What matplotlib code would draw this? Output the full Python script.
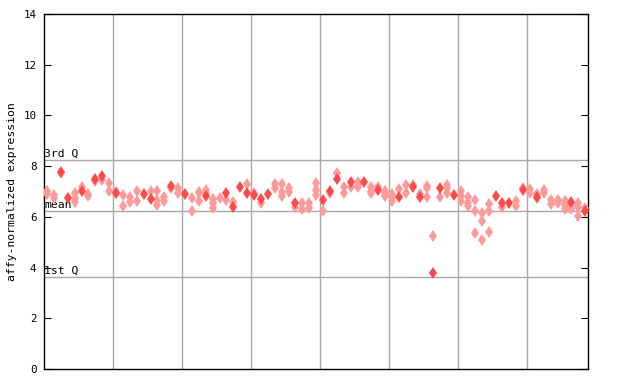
import matplotlib
matplotlib.use("Agg")
import matplotlib.pyplot as plt

# sample index / expression value
solid_idx = [2, 3, 5, 7, 8, 10, 14, 15, 18, 20, 23, 26, 27, 28, 29, 30, 31, 32, 36,
             40, 41, 42, 44, 46, 48, 51, 53, 54, 56, 57, 59, 65, 66, 67, 69, 71, 76, 78]
solid_val = [7.78, 6.73, 7.03, 7.49, 7.62, 6.93, 6.89, 6.69, 7.21, 6.89, 6.82, 6.95, 6.40,
             7.19, 6.95, 6.87, 6.69, 6.90, 6.53, 6.66, 7.03, 7.49, 7.36, 7.36, 7.06, 6.79,
             7.16, 6.77, 3.80, 7.15, 6.87, 6.82, 6.56, 6.53, 7.06, 6.79, 6.60, 6.23]

light_idx = [0, 0, 1, 1, 2, 4, 4, 4, 5, 6, 6, 7, 8, 9, 9, 10, 11, 11, 12, 12,
             13, 13, 15, 16, 16, 16, 17, 17, 18, 19, 19, 21, 21, 22, 22, 22, 23, 23,
             24, 24, 24, 25, 26, 27, 29, 30, 31, 33, 33, 34, 34, 34, 35, 35, 36, 37, 37,
             38, 38, 39, 39, 39, 40, 41, 42, 43, 43, 44, 45, 45, 45, 47, 47, 47, 48,
             49, 49, 49, 50, 50, 50, 51, 52, 52, 53, 54, 55, 55, 55, 56, 57, 58, 58, 58,
             60, 60, 60, 61, 61, 61, 62, 62, 62, 63, 63, 63, 64, 64, 64, 66, 68, 68,
             69, 70, 70, 71, 71, 72, 72, 73, 73, 74, 74, 75, 75, 75, 76, 76, 77, 77, 77, 78]
light_val = [7.02, 6.89, 6.87, 6.74, 7.72, 6.93, 6.76, 6.57, 7.16, 6.90, 6.82, 7.41, 7.45,
             7.32, 7.03, 6.99, 6.86, 6.43, 6.79, 6.57, 7.02, 6.61, 7.02, 7.02, 6.66, 6.45,
             6.79, 6.61, 7.12, 7.12, 6.95, 6.73, 6.23, 6.99, 6.93, 6.61, 7.06, 6.93,
             6.69, 6.53, 6.34, 6.73, 6.65, 6.57, 7.28, 6.95, 6.53, 7.28, 7.12, 7.28, 6.99, 6.82,
             7.12, 6.99, 6.40, 6.53, 6.30, 6.53, 6.36, 7.32, 7.06, 6.86, 6.23, 6.93, 7.72,
             7.16, 6.95, 7.16, 7.36, 7.25, 7.16, 7.16, 7.03, 6.93, 7.19, 7.03, 6.93, 6.82,
             6.90, 6.77, 6.64, 7.09, 7.26, 6.93, 7.26, 6.89, 7.21, 7.12, 6.77, 5.24, 6.77,
             7.26, 7.15, 6.93, 7.02, 6.82, 6.62, 6.77, 6.53, 6.44, 6.66, 6.23, 5.35,
             6.14, 5.84, 5.09, 6.49, 6.23, 5.39, 6.38, 6.62, 6.43, 7.15, 7.09, 6.93,
             6.89, 6.73, 7.06, 6.93, 6.66, 6.51, 6.66, 6.56, 6.62, 6.47, 6.30, 6.47, 6.30,
             6.53, 6.40, 6.03, 6.36]

q3 = 8.24
mean = 6.23
q1 = 3.63
n_samples = 79
group_size = 10
yticks = [0, 2, 4, 6, 8, 10, 12, 14]

plt.rcParams['font.family'] = ['DejaVu Sans Mono']
fig = plt.figure(figsize=(6.4, 3.84), dpi=100)
ax = fig.add_axes([44/640, 15/384, 544/640, 355/384])

ax.set_xlim(-0.45, n_samples - 0.6)
ax.set_ylim(0, 14)

for b in range(group_size, n_samples, group_size):
    ax.axvline(b - 0.5, color='#a8a8a8', lw=1, zorder=1)
for v in (q3, mean, q1):
    ax.axhline(v, color='#a8a8a8', lw=1, zorder=1)

ytr = ax.get_yaxis_transform()
ax.text(0.0, q3 + 0.04, '3rd Q', transform=ytr, fontsize=8.2, va='bottom', ha='left')
ax.text(0.0, mean + 0.04, 'mean', transform=ytr, fontsize=8.2, va='bottom', ha='left')
ax.text(0.0, q1 + 0.04, '1st Q', transform=ytr, fontsize=8.2, va='bottom', ha='left')

ax.plot(light_idx, light_val, 'd', color='#ff9a9a', ms=6, mew=0, zorder=3)
ax.plot(solid_idx, solid_val, 'd', color='#ff4a4a', ms=6, mew=0, zorder=4)

ax.set_yticks(yticks)
ax.set_xticks([])
ax.tick_params(axis='y', direction='in', length=5, left=True, right=True, labelsize=7.8, pad=5.5)
for s in ax.spines.values():
    s.set_color('black')
    s.set_linewidth(1)
ax.set_ylabel('affy-normalized expression', fontsize=8.2)
ax.yaxis.set_label_coords(-0.05, 0.5)

fig.savefig('out.png', dpi=100)
